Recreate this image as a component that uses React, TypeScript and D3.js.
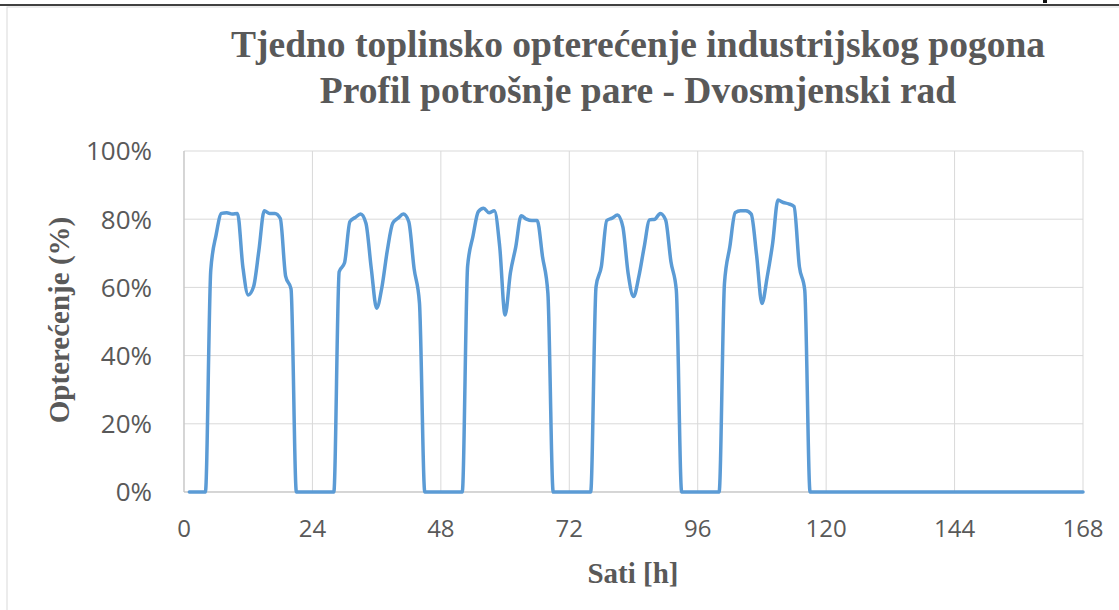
import React from "react";
import * as d3 from "d3";

// Hourly steam load (% of max) for a week, hours 1..168
const load: number[] = [
  // day 1
  0, 0, 0, 0, 65, 75.4, 81.7, 81.9, 81.5, 81.7, 66, 57.8, 60.2, 70.9, 82.5, 81.7, 81.7, 80.2, 63.2, 59.6, 0, 0, 0, 0,
  // day 2
  0, 0, 0, 0, 64.6, 67.2, 79.3, 80.5, 81.5, 78.8, 65.5, 53.9, 60.2, 70.9, 78.8, 80.3, 81.5, 79.3, 65.5, 55.5, 0, 0, 0, 0,
  // day 3
  0, 0, 0, 0, 66.2, 75, 82.2, 83.2, 81.9, 82.5, 71.9, 51.9, 64.3, 71.9, 81, 80, 79.6, 79.6, 69, 58.3, 0, 0, 0, 0,
  // day 4
  0, 0, 0, 0, 60.2, 66.2, 79.6, 80.3, 81.2, 77.8, 64.1, 57.3, 63.2, 71.9, 79.8, 80, 81.7, 79.8, 67.5, 59.2, 0, 0, 0, 0,
  // day 5
  0, 0, 0, 0, 61.2, 71.9, 81.9, 82.5, 82.5, 81.5, 69.5, 55.3, 63.2, 72.9, 85.6, 84.9, 84.5, 83.7, 66.1, 59.2, 0, 0, 0, 0,
  // day 6
  0, 0, 0, 0, 0, 0, 0, 0, 0, 0, 0, 0, 0, 0, 0, 0, 0, 0, 0, 0, 0, 0, 0, 0,
  // day 7
  0, 0, 0, 0, 0, 0, 0, 0, 0, 0, 0, 0, 0, 0, 0, 0, 0, 0, 0, 0, 0, 0, 0, 0,
];

const xTicks = [0, 24, 48, 72, 96, 120, 144, 168];
const yTicks = [0, 0.2, 0.4, 0.6, 0.8, 1.0];
const titleLines = [
  "Tjedno toplinsko opterećenje industrijskog pogona",
  "Profil potrošnje pare - Dvosmjenski rad",
];
const xTitle = "Sati [h]";
const yTitle = "Opterećenje (%)";

const W = 1119;
const H = 610;
const plot = { left: 184, right: 1083, top: 151, bottom: 492 };

export default function App() {
  const x = d3.scaleLinear().domain([0, 168]).range([plot.left, plot.right]);
  const y = d3.scaleLinear().domain([0, 1]).range([plot.bottom, plot.top]);
  const pts = load.map((v, i) => [i + 1, v / 100] as [number, number]);
  const line = d3
    .line<[number, number]>()
    .x((d) => x(d[0]))
    .y((d) => y(d[1]))
    .curve(d3.curveMonotoneX);
  const pct = d3.format(".0%");
  const tickFont = "'Open Sans', sans-serif";
  const serif = "'Liberation Serif', 'Times New Roman', serif";
  const grey = "#595959";

  return (
    <svg
      width={W}
      height={H}
      style={{ position: "absolute", left: 0, top: 0, background: "#fff" }}
    >
      {/* page header remnants */}
      <rect x={0} y={0} width={W} height={H} fill="#fff" />
      <line x1={0} x2={W} y1={5} y2={5} stroke="#000" strokeWidth={1.5} />
      <rect x={1043} y={0} width={4} height={3} fill="#111" />
      {/* chart border */}
      <rect x={7} y={7} width={W} height={H} fill="none" stroke="#d9d9d9" strokeWidth={1} />

      {/* gridlines */}
      {yTicks.map((t) => (
        <line key={"gy" + t} x1={plot.left} x2={plot.right} y1={y(t)} y2={y(t)} stroke="#d9d9d9" strokeWidth={1} />
      ))}
      {xTicks.map((t) => (
        <line key={"gx" + t} x1={x(t)} x2={x(t)} y1={plot.top} y2={plot.bottom} stroke="#d9d9d9" strokeWidth={1} />
      ))}
      {/* axes */}
      <line x1={plot.left} x2={plot.left} y1={plot.top} y2={plot.bottom} stroke="#bfbfbf" strokeWidth={1} />
      <line x1={plot.left} x2={plot.right} y1={plot.bottom} y2={plot.bottom} stroke="#bfbfbf" strokeWidth={1} />

      {/* series */}
      <path d={line(pts) || ""} fill="none" stroke="#5b9bd5" strokeWidth={3.5} strokeLinejoin="round" strokeLinecap="round" />

      {/* y tick labels */}
      {yTicks.map((t) => (
        <text key={"ly" + t} x={152} y={y(t)} dy="0.36em" textAnchor="end" fontFamily={tickFont} fontSize={26} fill={grey}>
          {pct(t)}
        </text>
      ))}
      {/* x tick labels */}
      {xTicks.map((t) => (
        <text key={"lx" + t} x={x(t)} y={537} textAnchor="middle" fontFamily={tickFont} fontSize={24} fill={grey}>
          {t}
        </text>
      ))}

      {/* title */}
      {titleLines.map((s, i) => (
        <text key={"t" + i} x={638} y={57 + i * 46} textAnchor="middle" fontFamily={serif} fontWeight="bold" fontSize={37.5} fill={grey}>
          {s}
        </text>
      ))}

      {/* axis titles */}
      <text x={633} y={583} textAnchor="middle" fontFamily={serif} fontWeight="bold" fontSize={29} fill={grey}>
        {xTitle}
      </text>
      <text
        transform={`translate(69,${320}) rotate(-90)`}
        textAnchor="middle"
        fontFamily={serif}
        fontWeight="bold"
        fontSize={29}
        fill={grey}
      >
        {yTitle}
      </text>
    </svg>
  );
}
